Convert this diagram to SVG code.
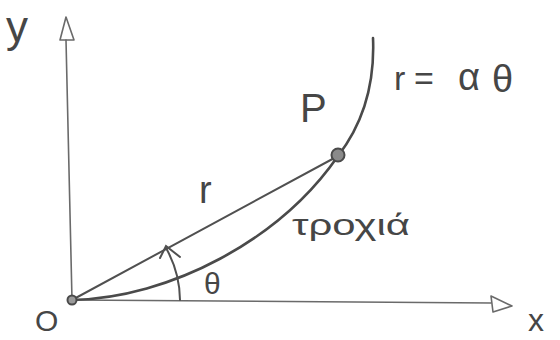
<svg xmlns="http://www.w3.org/2000/svg" width="560" height="340" viewBox="0 0 560 340">
<style>
.ax{fill:none;stroke:#6a6a6a;stroke-width:1.6;stroke-linecap:round;stroke-linejoin:round}
.ln{fill:none;stroke:#505050;stroke-width:2;stroke-linecap:round}
.cv{fill:none;stroke:#4a4a4a;stroke-width:2.6;stroke-linecap:round}
.tx{font-family:"Liberation Sans","DejaVu Sans",sans-serif;fill:#464646}
</style>
<rect width="560" height="340" fill="#ffffff"/>
<g id="axes">
<path class="ax" d="M72,300 L66,40"/>
<path class="ax" d="M66,17 L60,40 L74,40 Z"/>
<path class="ax" d="M72,300 L491,303"/>
<path class="ax" d="M491,296 L512,306 L493,312 Z"/>
</g>
<g id="connectors">
<path class="ln" d="M72,300 L338,156"/>
<path class="cv" d="M72,300 C170,298 280,240 338,156 C362,125 375,85 373,38"/>
<path class="ln" d="M180,300 A108,108 0 0 0 166,248"/>
<path class="ln" d="M160,258 L166,246 L180,257"/>
</g>
<g id="origin">
<circle cx="72" cy="300" r="4.5" fill="#9a9a9a" stroke="#4a4a4a" stroke-width="2"/>
</g>
<g id="P">
<circle cx="338" cy="155" r="6.5" fill="#8a8a8a" stroke="#4a4a4a" stroke-width="2"/>
</g>
<g id="labels">
<text class="tx" x="6" y="42" font-size="44">y</text>
<text class="tx" x="35" y="331" font-size="30">O</text>
<text class="tx" x="528" y="331" font-size="32">x</text>
<text class="tx" x="300" y="122" font-size="40">P</text>
<text class="tx" x="199" y="203" font-size="38">r</text>
<text class="tx" x="204" y="294" font-size="30">θ</text>
<text class="tx" x="292" y="235" font-size="30" textLength="118" lengthAdjust="spacingAndGlyphs">τροχιά</text>
<text class="tx" font-size="34"><tspan x="394" y="90">r</tspan><tspan x="414" y="90">=</tspan><tspan x="458" y="90" font-size="38">α</tspan><tspan x="492" y="92" font-size="38">θ</tspan></text>
</g>
</svg>
